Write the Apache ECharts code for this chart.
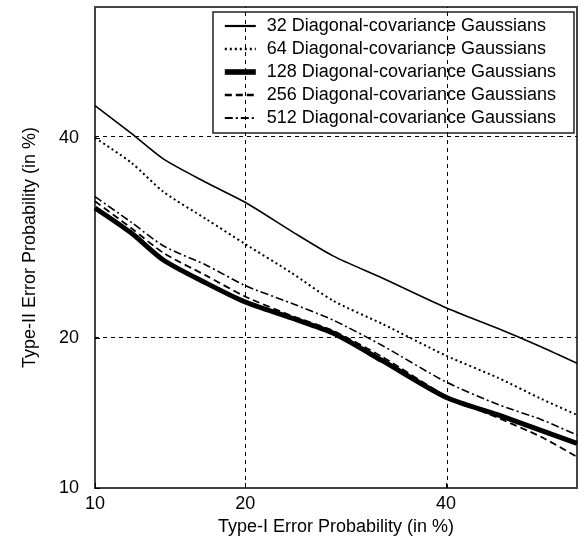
<!DOCTYPE html>
<html lang="en">
<head>
<meta charset="UTF-8">
<title>DET curves</title>
<style>
    * { margin: 0; padding: 0; }
    #chart { width: 584px; height: 542px; background: #fff; }
</style>
<script src="https://cdn.jsdelivr.net/npm/echarts@6/dist/echarts.min.js"></script>
</head>
<body>
<div id="chart"></div>
<script>
// Type-I error (%) at which the curves were read
var fa = [10, 12, 14, 17, 20, 24, 28, 33, 40, 46, 51, 55.2];
// Type-II error (%) for each model size
var g32  = [43.7, 40.5, 37.6, 35.0, 32.9, 29.9, 27.4, 25.3, 22.6, 20.8, 19.3, 18.0];
var g64  = [40.0, 37.2, 34.0, 31.1, 28.6, 25.8, 23.2, 21.2, 18.6, 16.9, 15.4, 14.3];
var g128 = [32.3, 29.7, 27.0, 24.8, 23.1, 21.7, 20.4, 18.2, 15.5, 14.3, 13.3, 12.5];
var g256 = [33.0, 30.2, 27.7, 25.5, 23.6, 21.9, 20.6, 18.5, 15.6, 14.1, 12.9, 11.7];
var g512 = [33.5, 30.8, 28.4, 26.5, 24.6, 23.0, 21.5, 19.4, 16.6, 15.0, 14.0, 13.0];
var names = ['32 Diagonal-covariance Gaussians', '64 Diagonal-covariance Gaussians',
    '128 Diagonal-covariance Gaussians', '256 Diagonal-covariance Gaussians',
    '512 Diagonal-covariance Gaussians'];
var ticks = [10, 20, 40];   // tick labels on both axes (%)
var axisMin = 10, axisMax = 55.2;

// inverse normal cdf (Acklam, central region is enough for 10..55 %)
function probit(p) {
    var a = [-3.969683028665376e+01, 2.209460984245205e+02, -2.759285104469687e+02,
             1.383577518672690e+02, -3.066479806614716e+01, 2.506628277459239e+00];
    var b = [-5.447609879822406e+01, 1.615858368580409e+02, -1.556989798598866e+02,
             6.680131188771972e+01, -1.328068155288572e+01];
    var q = p - 0.5, r = q * q;
    return (((((a[0]*r + a[1])*r + a[2])*r + a[3])*r + a[4])*r + a[5]) * q /
           (((((b[0]*r + b[1])*r + b[2])*r + b[3])*r + b[4])*r + 1);
}
function pz(v) { return probit(v / 100); }

function pairs(ys) {
    return fa.map(function (x, i) { return [pz(x), pz(ys[i])]; });
}

function tickLabel(v) {
    for (var i = 0; i < ticks.length; i++) {
        if (Math.abs(pz(ticks[i]) - v) < 1e-6) return String(ticks[i]);
    }
    return '';
}

var font = 'Liberation Sans, Arial, sans-serif';
var tickVals = ticks.map(pz);

function makeAxis(name, gap, lblMargin) {
    return {
        type: 'value',
        min: pz(axisMin),
        max: pz(axisMax),
        name: name,
        nameLocation: 'middle',
        nameGap: gap,
        nameTextStyle: { fontFamily: font, fontSize: 18, color: '#000' },
        axisLine: { show: true, onZero: false, lineStyle: { color: '#444', width: 2 } },
        axisTick: { show: true, inside: true, length: 5, customValues: tickVals, lineStyle: { color: '#000' } },
        axisLabel: {
            customValues: tickVals,
            formatter: tickLabel,
            margin: lblMargin,
            fontFamily: font, fontSize: 18, color: '#000'
        },
        splitLine: { show: false }
    };
}

var chart = echarts.init(document.getElementById('chart'));
var styles = [
    { width: 1.6, type: 'solid' },
    { width: 2, type: [2, 3] },
    { width: 5, type: 'solid' },
    { width: 1.8, type: [7, 4] },
    { width: 1.6, type: [8, 3, 2, 3] }
];
var sets = [g32, g64, g128, g256, g512];

var series = sets.map(function (ys, i) {
    return {
        name: names[i],
        type: 'line',
        data: pairs(ys),
        symbol: 'none',
        symbolSize: 0,
        smooth: 0.25,
        lineStyle: { color: '#000', width: styles[i].width, type: styles[i].type },
        itemStyle: { color: '#000' },
        z: 3
    };
});
// dashed grid at 20 % and 40 %
series[0].markLine = {
    silent: true,
    symbol: ['none', 'none'],
    label: { show: false },
    animation: false,
    lineStyle: { color: '#000', width: 1, type: [4, 4] },
    data: [
        { xAxis: pz(20) }, { xAxis: pz(40) },
        { yAxis: pz(20) }, { yAxis: pz(40) }
    ]
};

var legendItems = names.map(function (n, i) {
    return {
        name: n,
        itemStyle: { opacity: 0 },
        lineStyle: { color: '#000', width: styles[i].width + 0.6, type: styles[i].type }
    };
});

chart.setOption({
    animation: false,
    grid: {
        left: 95, right: 7, top: 7, bottom: 54,
        show: true, borderColor: '#444', borderWidth: 2, backgroundColor: '#fff'
    },
    legend: {
        data: legendItems,
        orient: 'vertical',
        left: 213, top: 12,
        itemWidth: 31, itemHeight: 14, itemGap: 5,
        padding: [5, 18, 6, 9],
        backgroundColor: '#fff',
        borderColor: '#222', borderWidth: 1.5,
        itemStyle: { opacity: 0 },
        textStyle: { fontFamily: font, fontSize: 18, color: '#000', padding: [0, 0, 0, 6] },
        selectedMode: false
    },
    xAxis: makeAxis('Type-I Error Probability (in %)', 29, 7),
    yAxis: makeAxis('Type-II Error Probability (in %)', 56, 16),
    series: series
});
</script>
</body>
</html>
